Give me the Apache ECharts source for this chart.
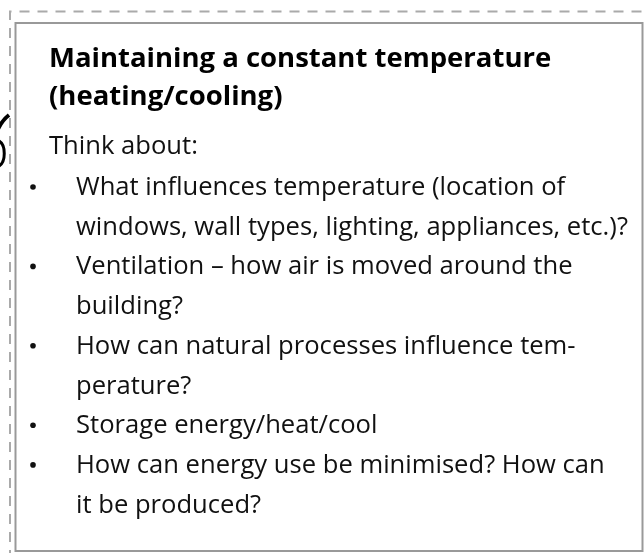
<!DOCTYPE html>
<html>
<head>
<meta charset="utf-8">
<title>Maintaining a constant temperature</title>
<script src="https://cdn.jsdelivr.net/npm/echarts@6/dist/echarts.min.js"></script>
<style>
  html, body { margin: 0; padding: 0; background: #fff; }
  #main { width: 644px; height: 553px; }
</style>
</head>
<body>
<div id="main"></div>
<script>
// 文本内容
const titleLines = ['Maintaining a constant temperature', '(heating/cooling)'];
const introLine = 'Think about:';
const bulletItems = [
  ['What influences temperature (location of', 'windows, wall types, lighting, appliances, etc.)?'],
  ['Ventilation \u2013 how air is moved around the', 'building?'],
  ['How can natural processes influence tem-', 'perature?'],
  ['Storage energy/heat/cool'],
  ['How can energy use be minimised? How can', 'it be produced?']
];

const FONT = '"Open Sans", "Noto Sans", sans-serif';
const titleSize = 27.5;
const bodySize = 25.6;
const lineGap = 39.7;
const listTop = 197;

// 基线 -> 居中位置
const mid = (baseline, size) => baseline - size * 0.36;

const chart = echarts.init(document.getElementById('main'), null, { renderer: 'canvas' });

const elements = [];

// 外层虚线
elements.push({
  type: 'polyline',
  shape: { points: [[10, 560], [10, 11.5], [650, 11.5]] },
  style: { stroke: '#aaaaaa', lineWidth: 2, lineDash: [10, 8], fill: null }
});

// 内框
elements.push({
  type: 'rect',
  shape: { x: 15.5, y: 23, width: 627, height: 528 },
  style: { stroke: '#999999', lineWidth: 2, fill: '#fff' }
});

// 左侧残留曲线
elements.push({
  type: 'bezierCurve',
  shape: { x1: -2, y1: 129, x2: 9, y2: 115, cpx1: 1, cpy1: 123, cpx2: 5, cpy2: 118 },
  style: { stroke: '#000', lineWidth: 4, fill: null }
});
elements.push({
  type: 'bezierCurve',
  shape: { x1: -1, y1: 141, x2: -1, y2: 166, cpx1: 6, cpy1: 145, cpx2: 6, cpy2: 162 },
  style: { stroke: '#000', lineWidth: 3, fill: null }
});

// 标题
titleLines.forEach((line, i) => {
  elements.push({
    type: 'text',
    x: 49,
    y: mid(69 + i * 38, titleSize),
    style: {
      text: line,
      font: 'bold ' + titleSize + 'px ' + FONT,
      fill: '#000',
      verticalAlign: 'middle'
    }
  });
});

elements.push({
  type: 'text',
  x: 49,
  y: mid(156, bodySize),
  style: { text: introLine, font: bodySize + 'px ' + FONT, fill: '#111', verticalAlign: 'middle' }
});

// 列表
let row = 0;
bulletItems.forEach((item) => {
  const first = listTop + row * lineGap;
  elements.push({
    type: 'circle',
    shape: { cx: 33, cy: first - 10, r: 2.8 },
    style: { fill: '#111' }
  });
  item.forEach((line) => {
    elements.push({
      type: 'text',
      x: 76,
      y: mid(listTop + row * lineGap, bodySize),
      style: { text: line, font: bodySize + 'px ' + FONT, fill: '#111', verticalAlign: 'middle' }
    });
    row++;
  });
});

chart.setOption({
  backgroundColor: '#fff',
  animation: false,
  graphic: { elements: elements }
});
</script>
</body>
</html>
